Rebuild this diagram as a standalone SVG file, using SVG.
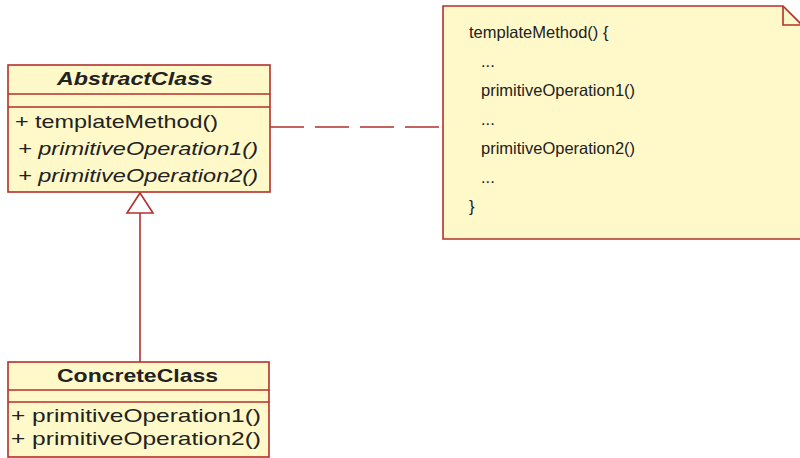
<svg xmlns="http://www.w3.org/2000/svg" width="800" height="458" viewBox="0 0 800 458">
<style>
.box{fill:#FFF8C8;stroke:#B3302E;stroke-width:1.6}
.sep{stroke:#B3302E;stroke-width:1.6}
.t{font-family:"Liberation Sans",Arial,sans-serif;font-size:19px;fill:#222}
.b{font-weight:bold}
.i{font-style:italic}
.n{font-family:"Liberation Sans",Arial,sans-serif;font-size:16.5px;fill:#222}
.edge{stroke:#B3302E;stroke-width:1.6;fill:none}
</style>
<rect width="800" height="458" fill="#FFFFFF"/>
<g id="connectors">
<line class="edge" x1="270" y1="127" x2="443" y2="127" stroke-dasharray="34 11"/>
<line class="edge" x1="140" y1="362" x2="140" y2="213"/>
<polygon points="140,193 127,213 153,213" fill="#FFFFFF" stroke="#B3302E" stroke-width="1.6"/>
</g>
<g id="AbstractClass">
<rect class="box" x="8" y="65" width="262" height="127"/>
<line class="sep" x1="8" y1="94" x2="270" y2="94"/>
<line class="sep" x1="8" y1="107" x2="270" y2="107"/>
<text class="t b i" x="57" y="85" textLength="156" lengthAdjust="spacingAndGlyphs">AbstractClass</text>
<text class="t" x="15" y="128" textLength="203" lengthAdjust="spacingAndGlyphs">+ templateMethod()</text>
<text class="t i" x="18" y="155" textLength="240" lengthAdjust="spacingAndGlyphs">+ primitiveOperation1()</text>
<text class="t i" x="18" y="182" textLength="240" lengthAdjust="spacingAndGlyphs">+ primitiveOperation2()</text>
</g>
<g id="ConcreteClass">
<rect class="box" x="8" y="362" width="261" height="95"/>
<line class="sep" x1="8" y1="390" x2="269" y2="390"/>
<line class="sep" x1="8" y1="402" x2="269" y2="402"/>
<text class="t b" x="57" y="382" textLength="161" lengthAdjust="spacingAndGlyphs">ConcreteClass</text>
<text class="t" x="11" y="422" textLength="250" lengthAdjust="spacingAndGlyphs">+ primitiveOperation1()</text>
<text class="t" x="11" y="445" textLength="250" lengthAdjust="spacingAndGlyphs">+ primitiveOperation2()</text>
</g>
<g id="note">
<path class="box" d="M443,6 L783,6 L802,25 L802,239 L443,239 Z"/>
<path class="edge" d="M783,6 L783,25 L802,25"/>
<text class="n" x="469" y="38">templateMethod() {</text>
<text class="n" x="481" y="67">...</text>
<text class="n" x="481" y="96">primitiveOperation1()</text>
<text class="n" x="481" y="125">...</text>
<text class="n" x="481" y="154">primitiveOperation2()</text>
<text class="n" x="481" y="183">...</text>
<text class="n" x="469" y="212">}</text>
</g>
</svg>
